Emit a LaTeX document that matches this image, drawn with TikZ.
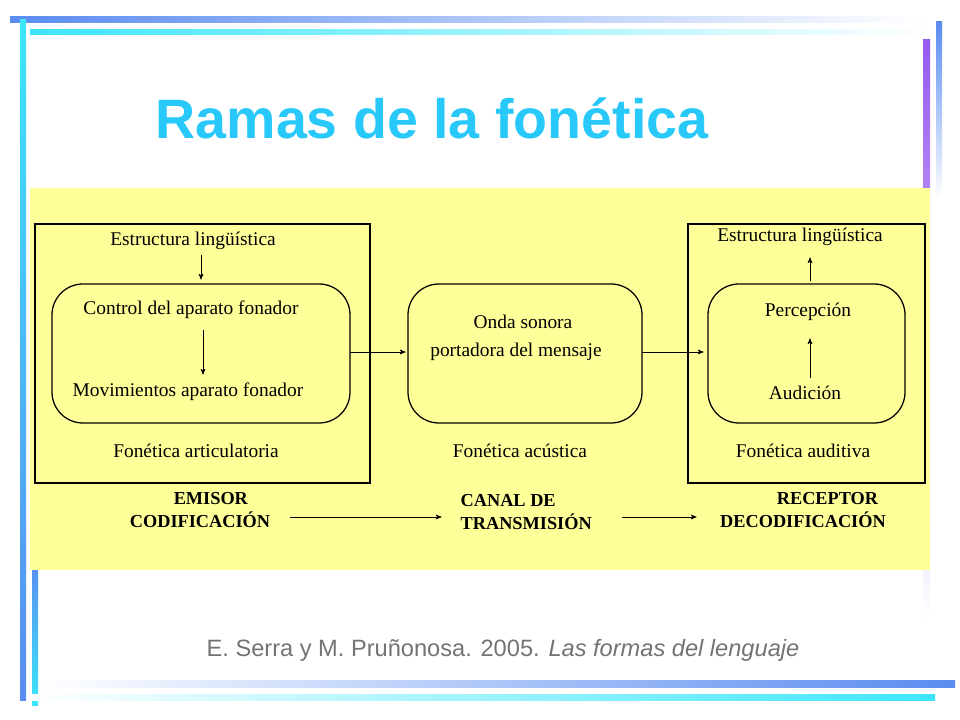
\documentclass[tikz,border=0pt]{standalone}
\usepackage{fontspec}
\setmainfont{Liberation Serif}
\newfontfamily\headfont{Liberation Sans}
\usetikzlibrary{arrows, positioning}
\definecolor{titlecyan}{RGB}{41,200,250}
\definecolor{paleyellow}{RGB}{255,255,153}
\definecolor{barblue}{RGB}{90,140,240}
\definecolor{barcyan}{RGB}{60,230,250}
\definecolor{barpurple}{RGB}{150,90,240}
\tikzset{
  txt/.style={font=\fontsize{13.8}{16}\selectfont, inner sep=1pt},
  capstxt/.style={font=\bfseries\fontsize{13}{17}\selectfont, inner sep=1pt, align=left},
  flow/.style={arrows=->, >=stealth', line width=0.5pt, shorten >=1pt},
  outerbox/.style={draw, line width=0.9pt},
  innerbox/.style={draw, line width=0.9pt, rounded corners=22pt}
}
\begin{document}
\begin{tikzpicture}[x=0.025cm, y=-0.025cm]
  \useasboundingbox (0, 0) rectangle (960, 720);
  % decorative frame bars
  \shade [left color=barblue, right color=white] (10, 17) rectangle (925, 23);
  \shade [left color=barcyan, right color=white] (30, 30) rectangle (930, 35);
  \shade [top color=barcyan, bottom color=barblue] (20, 20) rectangle (26, 700);
  \shade [top color=barblue, bottom color=barcyan] (32, 560) rectangle (38, 705);
  \shade [top color=barpurple, bottom color=white] (923, 40) rectangle (930, 620);
  \shade [top color=barblue, bottom color=white] (936, 22) rectangle (942, 200);
  \shade [left color=white, right color=barblue] (40, 680) rectangle (955, 687);
  \shade [left color=white, right color=barcyan] (30, 694) rectangle (935, 700);
  % title
  \node [text=titlecyan, font=\headfont\bfseries\fontsize{39.5}{44}\selectfont] (title) at (432, 118) {Ramas de la fonética};
  % yellow panel and boxes
  \fill [paleyellow] (30, 188) rectangle (930, 570);
  \draw [outerbox] (35, 224) rectangle (370, 483);
  \draw [innerbox] (52, 284) rectangle (350, 423);
  \draw [innerbox] (408, 284) rectangle (642, 423);
  \draw [outerbox] (688, 224) rectangle (925, 483);
  \draw [innerbox] (708, 284) rectangle (905, 423);
  \coordinate (leftout) at (350, 352);
  \coordinate (midin) at (407, 352);
  \coordinate (midout) at (642, 352);
  \coordinate (rightin) at (705, 352);
  \coordinate (lefttop) at (201, 281);
  \coordinate (righttop) at (810, 281);
  % emitter
  \node [txt] (estrA) at (193, 241) {Estructura lingüística};
  \node [txt] (control) at (191, 310) {Control del aparato fonador};
  \node [txt] (movim) at (188, 392) {Movimientos aparato fonador};
  \node [txt] (artic) at (196, 451) {Fonética articulatoria};
  % channel
  \node [txt] (onda) at (523, 322) {Onda sonora};
  \node [txt] (portad) at (516, 352) {portadora del mensaje};
  \node [txt] (acust) at (520, 451) {Fonética acústica};
  % receiver
  \node [txt] (estrB) at (800, 237) {Estructura lingüística};
  \node [txt] (percep) at (808, 312) {Percepción};
  \node [txt] (audic) at (805, 393) {Audición};
  \node [txt] (audit) at (803, 451) {Fonética auditiva};
  % bottom labels
  \node [capstxt] (emisor) at (200, 510) {\hspace*{2.4em}EMISOR\\CODIFICACIÓN};
  \node [capstxt, anchor=west] (canal) at (459, 512) {CANAL DE\\TRANSMISIÓN};
  \node [capstxt] (recep) at (803, 510) {\hspace*{3.1em}RECEPTOR\\DECODIFICACIÓN};
  % arrows
  \draw [flow] (201, 255) -- (lefttop);
  \draw [flow] (203, 330) -- (203, 376);
  \draw [flow] (leftout) -- (midin);
  \draw [flow] (midout) -- (rightin);
  \draw [flow] (righttop) -- (810, 256);
  \draw [flow] (810, 378) -- (810, 337);
  \draw [flow] (290, 517) -- (443, 517);
  \draw [flow] (622, 517) -- (698, 517);
  % source
  \node [text=black!55, font=\headfont\fontsize{16.8}{19}\selectfont] (source) at (503, 650) {E. Serra y M. Pruñonosa. 2005. \textit{Las formas del lenguaje}};
\end{tikzpicture}
\end{document}
